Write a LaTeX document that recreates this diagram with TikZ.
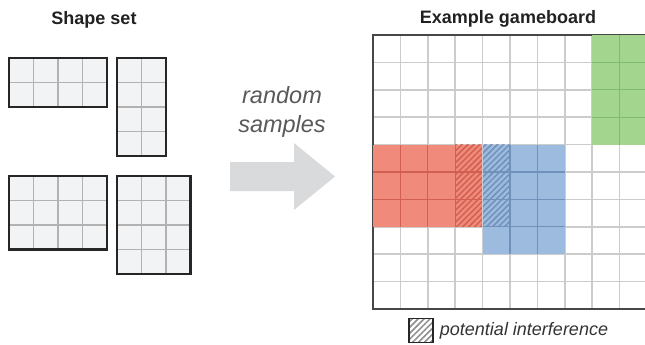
\documentclass[tikz,border=0pt]{standalone}
\usepackage{fontspec}
\setmainfont{Liberation Sans}
\usepackage{tikz}
\usetikzlibrary{positioning, calc, patterns.meta}

\definecolor{colRed}{RGB}{240, 138, 122}
\definecolor{colRedLine}{RGB}{210, 96, 82}
\definecolor{colBlue}{RGB}{157, 187, 222}
\definecolor{colBlueLine}{RGB}{112, 145, 186}
\definecolor{colGreen}{RGB}{163, 213, 142}
\definecolor{colGreenLine}{RGB}{128, 188, 108}
\definecolor{colPiece}{RGB}{242, 243, 244}
\definecolor{colArrow}{RGB}{217, 218, 219}

\tikzset{
    piecefill/.style={fill=colPiece},
    pieceline/.style={draw=black!30, line width=1.5pt},
    pieceborder/.style={draw=black!85, line width=2.2pt},
    boardline/.style={draw=black!20, line width=1.5pt},
    boardborder/.style={draw=black!72, line width=2.4pt},
    hatched/.style={pattern={Lines[angle=45, distance=4.2pt, line width=1.5pt]}},
    titletext/.style={font=\fontsize{18}{20}\selectfont\bfseries, text=black!87},
}

% piece of the shape set: x, y, columns, rows
\newcommand{\piece}[4]{%
    \pgfmathtruncatemacro\lastcol{#3-1}
    \pgfmathtruncatemacro\lastrow{#4-1}
    \fill[piecefill] (#1,#2) rectangle ++(24.5*#3,24.5*#4);
    \foreach \i in {1,...,\lastcol} \draw[pieceline] ({#1+24.5*\i},#2) -- ++(0,24.5*#4);
    \foreach \j in {1,...,\lastrow} \draw[pieceline] (#1,{#2+24.5*\j}) -- ++(24.5*#3,0);
    \draw[pieceborder] (#1,#2) rectangle ++(24.5*#3,24.5*#4);
}

% piece on the gameboard: fill, line colour, column, row, columns, rows
\newcommand{\boardpiece}[6]{%
    \pgfmathtruncatemacro\lastcol{#5-1}
    \pgfmathtruncatemacro\lastrow{#6-1}
    \fill[#1] ({373+27.4*#3},{35+27.4*#4}) rectangle ++(27.4*#5,27.4*#6);
    \foreach \i in {1,...,\lastcol} \draw[#2, line width=1.3pt] ({373+27.4*(#3+\i)},{35+27.4*#4}) -- ++(0,27.4*#6);
    \foreach \j in {1,...,\lastrow} \draw[#2, line width=1.3pt] ({373+27.4*#3},{35+27.4*(#4+\j)}) -- ++(27.4*#5,0);
}

\begin{document}
\begin{tikzpicture}[x=1pt, y=-1pt]
    \useasboundingbox (0,0) rectangle (645,345);

    % --- Shape set ---
    \node[titletext, anchor=base] (shapetitle) at (94,25) {Shape set};
    \piece{9}{58}{4}{2}
    \piece{117}{58}{2}{4}
    \piece{9}{176}{4}{3}
    \piece{117}{176}{3}{4}

    % --- Arrow ---
    \fill[colArrow] (230,162) -- (294,162) -- (294,143) -- (335,176.5)
        -- (294,210) -- (294,191) -- (230,191) -- cycle;
    \node[anchor=base, align=center, text=black!65,
          font=\fontsize{23.5}{29}\selectfont\itshape] (samples) at (282,132)
          {random\\samples};

    % --- Example gameboard ---
    \node[titletext, anchor=base] (boardtitle) at (508,24) {Example gameboard};
    \begin{scope}
        \clip (360,30) rectangle (645,315);
        \fill[white] (373,35) rectangle ++(274,274);
        \foreach \i in {1,...,9} \draw[boardline] ({373+27.4*\i},35) -- ++(0,274);
        \foreach \j in {1,...,9} \draw[boardline] (373,{35+27.4*\j}) -- ++(274,0);
        \draw[boardborder] (647,35) -- (373,35) -- (373,309) -- (647,309);
        % Pieces
        \boardpiece{colRed}{colRedLine}{0}{4}{4}{3}
        \boardpiece{colBlue}{colBlueLine}{4}{4}{3}{4}
        \boardpiece{colGreen}{colGreenLine}{8}{0}{2}{4}
        % Overlap
        \fill[hatched, pattern color=colRedLine] (455.2,144.6) rectangle (482.6,226.8);
        \fill[hatched, pattern color=colBlueLine] (482.6,144.6) rectangle (510,226.8);
        \draw[boardline] (482.6,144.6) -- (482.6,254.2);
    \end{scope}

    % --- Legend ---
    \node[draw=black!85, line width=1.5pt, minimum size=24pt, inner sep=0pt,
          hatched, pattern color=black!45] (legendbox) at (421,330.5) {};
    \node[right=6pt of legendbox, inner sep=0pt, text=black!80,
          font=\fontsize{18}{20}\selectfont\itshape] (legendtext) {potential interference};
\end{tikzpicture}
\end{document}
